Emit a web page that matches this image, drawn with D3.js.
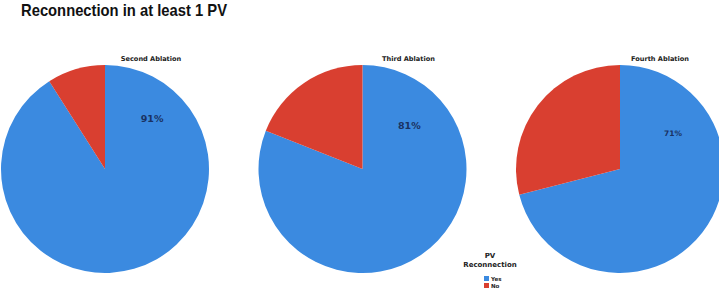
<!DOCTYPE html>
<html>
<head>
<meta charset="utf-8">
<script src="https://cdn.jsdelivr.net/npm/d3@7"></script>
<style>
  body { margin: 0; background: #fff; }
  svg { display: block; }
</style>
</head>
<body>
<svg id="chart" width="719" height="290"></svg>
<script>
var categories = ['Yes', 'No'];
var panels = ['Second Ablation', 'Third Ablation', 'Fourth Ablation'];
var yesValues = [91, 81, 71];
var noValues = [9, 19, 29];
var pctLabels = ['91%', '81%', '71%'];

var colors = d3.scaleOrdinal().domain(categories).range(['#3b8ae0', '#d93f30']);

var svg = d3.select('#chart');
var width = 719;
var radius = 104;
var cy = 169;
var x = d3.scalePoint().domain(panels).range([105, 620]);

svg.append('text')
    .attr('x', 21)
    .attr('y', 16)
    .attr('font-family', 'Liberation Sans, Arial, sans-serif')
    .attr('font-weight', 'bold')
    .attr('font-size', '16.5px')
    .attr('textLength', 206)
    .attr('lengthAdjust', 'spacingAndGlyphs')
    .attr('fill', '#111')
    .text('Reconnection in at least 1 PV');

var pie = d3.pie().sort(null).value(function(d) { return d.v; });
var arc = d3.arc().innerRadius(0).outerRadius(radius);

// where the % text sits inside each pie (angle in degrees from 12 o'clock, distance from centre)
var labelPos = [{a: 43, r: 69, s: 9.5}, {a: 47, r: 64, s: 9.5}, {a: 56, r: 64, s: 7.5}];

panels.forEach(function(name, i) {
    var g = svg.append('g').attr('transform', 'translate(' + x(name) + ',' + cy + ')');
    var data = [{k: 'Yes', v: yesValues[i]}, {k: 'No', v: noValues[i]}];
    g.selectAll('path')
        .data(pie(data))
        .enter().append('path')
        .attr('d', arc)
        .attr('fill', function(d) { return colors(d.data.k); });

    g.append('text')
        .attr('x', 46 - (i == 2 ? 6 : 0))
        .attr('y', -radius - 4)
        .attr('text-anchor', 'middle')
        .attr('font-family', 'DejaVu Sans, sans-serif')
        .attr('font-weight', 'bold')
        .attr('font-size', '6.6px')
        .attr('fill', '#222')
        .text(name);

    var p = labelPos[i];
    var ang = p.a * Math.PI / 180;
    g.append('text')
        .attr('x', Math.sin(ang) * p.r)
        .attr('y', -Math.cos(ang) * p.r)
        .attr('dy', '0.35em')
        .attr('text-anchor', 'middle')
        .attr('font-family', 'DejaVu Sans, sans-serif')
        .attr('font-weight', 'bold')
        .attr('font-size', p.s + 'px')
        .attr('fill', '#1a3262')
        .text(pctLabels[i]);
});

// legend
var lg = svg.append('g').attr('transform', 'translate(490,0)');
lg.append('text').attr('x', 0).attr('y', 258).attr('text-anchor', 'middle')
    .attr('font-family', 'DejaVu Sans, sans-serif').attr('font-weight', 'bold')
    .attr('font-size', '7px').attr('fill', '#222').text('PV');
lg.append('text').attr('x', 0).attr('y', 267).attr('text-anchor', 'middle')
    .attr('font-family', 'DejaVu Sans, sans-serif').attr('font-weight', 'bold')
    .attr('font-size', '7px').attr('fill', '#222').text('Reconnection');
var items = lg.selectAll('.item').data(categories).enter().append('g')
    .attr('transform', function(d, i) { return 'translate(-6,' + (276 + i * 7) + ')'; });
items.append('rect').attr('width', 5).attr('height', 5).attr('fill', function(d) { return colors(d); });
items.append('text').attr('x', 7).attr('y', 4.5)
    .attr('font-family', 'DejaVu Sans, sans-serif').attr('font-weight', 'bold').attr('font-size', '5.5px')
    .attr('fill', '#222').text(function(d) { return d; });
</script>
</body>
</html>
